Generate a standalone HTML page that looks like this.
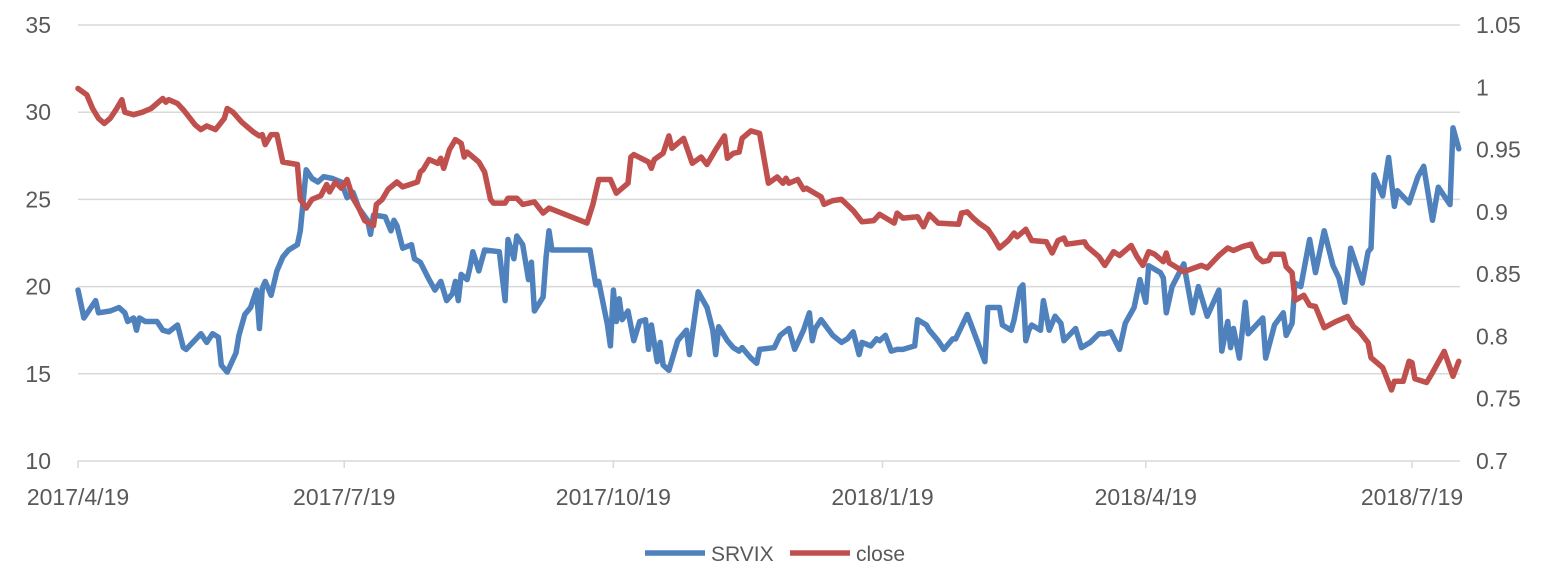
<!DOCTYPE html>
<html><head><meta charset="utf-8"><style>
body{margin:0;background:#fff;}
svg text{font-family:"Liberation Sans",sans-serif;fill:#595959;font-size:23px;}
svg text.lg{font-size:21px;}
</style></head><body>
<svg id="chart" width="1545" height="576" xmlns="http://www.w3.org/2000/svg"></svg>
<script>
const leftTicks=[10,15,20,25,30,35];
const rightTicks=["0.7","0.75","0.8","0.85","0.9","0.95","1","1.05"];
const dateLabels=["2017/4/19","2017/7/19","2017/10/19","2018/1/19","2018/4/19","2018/7/19"];
const dateDays=[0,91,183,275,365,456];
const srvixDays=[0,2,6,7,11,14,16,17,19,20,21,23,27,29,31,34,36,37,42,44,46,48,49,51,54,55,57,59,61,62,63,64,66,68,70,72,75,76,78,80,82,84,87,90,92,94,96,99,100,101,105,107,108,109,111,114,115,117,120,122,124,126,128,129,130,131,133,134,135,137,139,144,146,147,149,150,152,154,155,156,159,160,161,162,175,177,178,181,182,183,184,185,186,188,190,192,194,195,196,198,199,200,202,205,208,209,212,215,217,218,219,222,224,226,227,229,230,232,233,238,240,243,245,248,250,251,252,254,258,261,263,265,267,268,271,273,274,276,278,280,282,286,287,290,291,294,296,299,300,304,310,311,315,316,319,320,322,323,324,325,326,329,330,332,334,336,337,341,343,346,349,351,353,356,358,361,363,365,366,370,371,372,374,378,381,383,386,390,391,393,394,395,397,399,400,405,406,409,412,413,415,416,418,421,423,426,429,431,433,435,439,441,442,443,446,448,450,451,455,458,460,463,465,469,470,472];
const srvixValues=[19.8,18.2,19.2,18.5,18.6,18.8,18.5,18.0,18.2,17.5,18.2,18.0,18.0,17.5,17.4,17.8,16.5,16.4,17.3,16.8,17.3,17.1,15.5,15.1,16.2,17.2,18.4,18.8,19.8,17.6,19.9,20.3,19.5,20.9,21.7,22.1,22.4,23.2,26.7,26.2,26.0,26.3,26.2,26.0,25.1,25.4,24.5,23.8,23.0,24.1,24.0,23.2,23.8,23.5,22.2,22.4,21.6,21.4,20.4,19.8,20.3,19.2,19.6,20.3,19.2,20.7,20.4,21.1,22.0,20.9,22.1,22.0,19.2,22.7,21.6,22.9,22.4,20.4,21.4,18.6,19.4,21.7,23.2,22.1,22.1,20.1,20.3,17.8,16.6,19.8,18.0,19.3,18.1,18.6,16.9,18.0,18.1,16.4,17.8,15.7,16.8,15.5,15.2,16.9,17.5,16.1,19.7,18.8,17.5,16.1,17.7,16.9,16.5,16.3,16.5,16.1,15.9,15.6,16.4,16.5,17.2,17.6,16.4,17.5,18.5,16.9,17.6,18.1,17.2,16.8,17.0,17.4,16.1,16.8,16.6,17.0,16.9,17.2,16.3,16.4,16.4,16.6,18.1,17.8,17.5,16.9,16.4,17.0,17.0,18.4,15.7,18.8,18.8,17.8,17.5,18.1,19.9,20.1,16.9,17.5,17.8,17.5,19.2,17.5,18.3,17.9,16.9,17.6,16.5,16.8,17.3,17.3,17.4,16.4,17.9,18.8,20.4,19.1,21.2,20.8,20.5,18.5,20.0,21.3,18.5,20.0,18.3,19.8,16.3,18.0,16.5,17.6,15.9,19.1,17.3,18.2,15.9,17.8,18.5,17.2,17.9,20.2,20.0,22.7,20.8,23.2,21.2,20.5,19.1,22.2,20.2,22.0,22.2,26.4,25.2,27.4,24.6,25.5,24.8,26.3,26.9,23.8,25.7,24.7,29.1,27.9];
const closeDays=[0,3,5,7,9,11,13,15,16,19,22,25,29,30,31,34,36,38,40,42,44,47,50,51,53,56,60,62,63,64,66,68,70,75,76,78,80,83,85,86,88,90,92,94,96,98,101,102,104,106,109,111,116,117,118,120,123,124,125,127,129,131,132,133,137,139,141,142,146,147,150,152,156,159,161,174,176,178,182,184,188,189,190,195,196,197,200,202,203,207,210,213,215,218,221,222,224,226,227,230,233,236,239,241,242,243,246,248,249,254,255,258,261,265,268,272,274,279,280,282,287,289,291,294,301,302,304,306,308,311,313,315,318,320,321,324,326,331,333,335,337,338,344,345,349,351,354,356,360,362,364,366,368,371,372,373,378,384,386,390,393,395,398,401,403,405,407,408,412,413,415,416,419,421,423,426,430,434,436,438,441,442,446,449,450,453,455,456,457,461,463,467,470,472];
const closeValues=[.999,.994,.983,.975,.971,.975,.982,.990,.980,.978,.980,.983,.991,.988,.990,.987,.982,.976,.970,.966,.969,.966,.975,.983,.980,.972,.964,.961,.962,.954,.962,.962,.940,.938,.910,.903,.910,.913,.922,.916,.924,.919,.926,.911,.903,.893,.889,.906,.910,.918,.924,.920,.924,.932,.934,.942,.939,.943,.935,.950,.958,.955,.944,.948,.940,.932,.910,.907,.907,.911,.911,.906,.908,.899,.903,.891,.906,.926,.926,.915,.923,.944,.946,.940,.935,.942,.947,.961,.951,.959,.939,.944,.938,.950,.961,.943,.947,.948,.959,.965,.963,.923,.928,.923,.927,.923,.926,.918,.919,.912,.906,.909,.910,.901,.892,.893,.898,.891,.899,.895,.896,.888,.898,.891,.890,.899,.900,.895,.891,.886,.879,.871,.877,.883,.880,.886,.877,.876,.867,.877,.879,.874,.876,.872,.864,.857,.868,.865,.873,.864,.857,.868,.866,.860,.867,.859,.852,.857,.855,.865,.871,.869,.872,.874,.864,.860,.861,.866,.866,.856,.851,.829,.833,.825,.824,.807,.812,.816,.808,.804,.795,.783,.775,.757,.764,.764,.780,.779,.766,.763,.771,.788,.768,.780];

const NS="http://www.w3.org/2000/svg";
const svg=document.getElementById('chart');
const X0=78,PX_PER_DAY=(1412-78)/456,TOP=25,BOT=461,R=1460;
const xDay=d=>X0+d*PX_PER_DAY;
const yL=v=>BOT-(v-10)/25*(BOT-TOP);
const yR=v=>BOT-(v-0.7)/0.35*(BOT-TOP);
function mk(tag,attrs){const e=document.createElementNS(NS,tag);for(const k in attrs)e.setAttribute(k,attrs[k]);svg.appendChild(e);return e;}

leftTicks.forEach((t,i)=>{
  const y=yL(t);
  if(t!==10){const g=mk('line',{x1:X0,x2:R,y1:y,y2:y,stroke:'#d9d9d9','stroke-width':1.5});
  
  }
  const tx=mk('text',{x:51,y:y+8,'text-anchor':'end'});tx.textContent=t;
  
  
});
rightTicks.forEach(t=>{
  const tx=mk('text',{x:1476,y:yR(parseFloat(t))+8});tx.textContent=t;
  
  
});
const ax=mk('line',{x1:X0,x2:R,y1:BOT,y2:BOT,stroke:'#d9d9d9','stroke-width':1.5});


dateDays.forEach((d,i)=>{
  const x=xDay(d);
  const tk=mk('line',{x1:x,x2:x,y1:BOT,y2:BOT+7,stroke:'#d9d9d9','stroke-width':1.5});
  
  
  const tx=mk('text',{x:x,y:505,'text-anchor':'middle'});tx.textContent=dateLabels[i];
  
  
});
function series(days,vals,yf,color,name){
  const d=days.map((dd,i)=>(i?'L':'M')+xDay(dd).toFixed(1)+','+yf(vals[i]).toFixed(1)).join('');
  const p=mk('path',{d:d,fill:'none',stroke:color,'stroke-width':5.5,'stroke-linejoin':'round','stroke-linecap':'round'});
  
  
}
series(srvixDays,srvixValues,yL,'#4f81bd','srvix-line');
series(closeDays,closeValues,yR,'#c0504d','close-line');

const l1=mk('line',{x1:645,x2:705,y1:553,y2:553,stroke:'#4f81bd','stroke-width':5.5});


const t1=mk('text',{x:711,y:561,'class':'lg'});t1.textContent='SRVIX';


const l2=mk('line',{x1:790,x2:850,y1:553,y2:553,stroke:'#c0504d','stroke-width':5.5});


const t2=mk('text',{x:856,y:561,'class':'lg'});t2.textContent='close';


</script>
</body></html>
